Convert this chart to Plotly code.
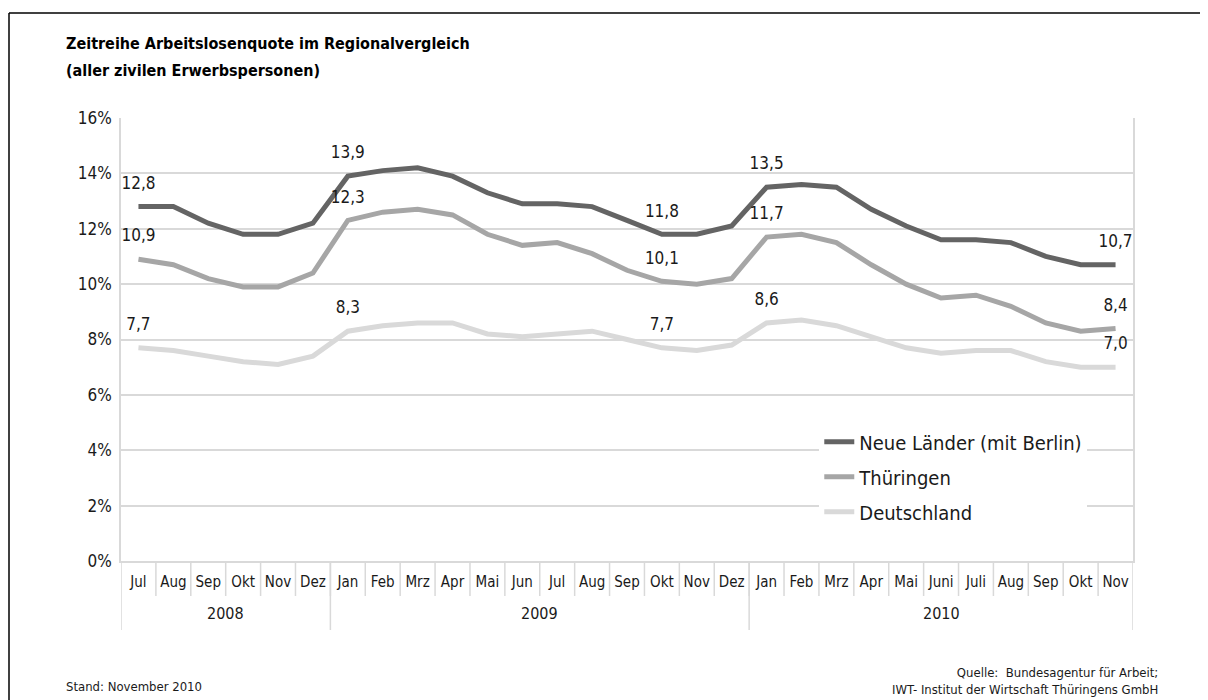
import plotly.graph_objects as go

# data
months = ["Jul", "Aug", "Sep", "Okt", "Nov", "Dez",
          "Jan", "Feb", "Mrz", "Apr", "Mai", "Jun", "Jul", "Aug", "Sep", "Okt", "Nov", "Dez",
          "Jan", "Feb", "Mrz", "Apr", "Mai", "Juni", "Juli", "Aug", "Sep", "Okt", "Nov"]
years = ["2008", "2009", "2010"]
year_len = [6, 12, 11]

neue_laender = [12.8, 12.8, 12.2, 11.8, 11.8, 12.2,
                13.9, 14.1, 14.2, 13.9, 13.3, 12.9, 12.9, 12.8, 12.3, 11.8, 11.8, 12.1,
                13.5, 13.6, 13.5, 12.7, 12.1, 11.6, 11.6, 11.5, 11.0, 10.7, 10.7]
thueringen = [10.9, 10.7, 10.2, 9.9, 9.9, 10.4,
              12.3, 12.6, 12.7, 12.5, 11.8, 11.4, 11.5, 11.1, 10.5, 10.1, 10.0, 10.2,
              11.7, 11.8, 11.5, 10.7, 10.0, 9.5, 9.6, 9.2, 8.6, 8.3, 8.4]
deutschland = [7.7, 7.6, 7.4, 7.2, 7.1, 7.4,
               8.3, 8.5, 8.6, 8.6, 8.2, 8.1, 8.2, 8.3, 8.0, 7.7, 7.6, 7.8,
               8.6, 8.7, 8.5, 8.1, 7.7, 7.5, 7.6, 7.6, 7.2, 7.0, 7.0]

labelled = [0, 6, 15, 18, 28]

series = [
    ("Neue Länder (mit Berlin)", neue_laender, "#646464"),
    ("Thüringen", thueringen, "#a6a6a6"),
    ("Deutschland", deutschland, "#d9d9d9"),
]

FONT = "DejaVu Sans Condensed, Liberation Sans Narrow, sans-serif"
GRID = "#d9d9d9"
idx = list(range(len(months)))

fig = go.Figure()
for i, (name, vals, col) in enumerate(series):
    fig.add_trace(go.Scatter(
        x=idx, y=vals, name=name, mode="lines",
        line=dict(color=col, width=5), legendgroup=str(i)))

for name, vals, col in series:
    fig.add_trace(go.Scatter(
        x=labelled, y=[vals[i] for i in labelled],
        text=[f"{vals[i]:.1f}".replace(".", ",") for i in labelled],
        mode="markers+text", textposition="top center",
        marker=dict(size=20, opacity=0),
        textfont=dict(size=17, color="#1a1a1a"),
        showlegend=False, hoverinfo="skip"))

# the page has an 8px body margin, so margins are 8px smaller
fig.update_layout(
    width=1200, height=692,
    margin=dict(l=113, r=75, t=110, b=139),
    paper_bgcolor="white", plot_bgcolor="white",
    font=dict(family=FONT, size=16, color="#1a1a1a"),
    legend=dict(x=0.69, y=0.313, xanchor="left", yanchor="top",
                bgcolor="white", font=dict(size=20), tracegroupgap=6),
    showlegend=True,
)

fig.update_yaxes(range=[0, 16], dtick=2, ticksuffix="%",
                 showgrid=True, gridcolor=GRID, gridwidth=1.5,
                 showline=True, linecolor=GRID, linewidth=1.5, mirror=True,
                 tickfont=dict(size=17), ticks="", zeroline=False,
                 ticklabelstandoff=4)
fig.update_xaxes(range=[-0.5, len(months) - 0.5], tickvals=idx, ticktext=months,
                 tickangle=0, showgrid=False, zeroline=False,
                 showline=True, linecolor=GRID, linewidth=1.5,
                 ticks="", tickfont=dict(size=15), ticklabelstandoff=6)

# month separators below the axis
for k in range(len(months) - 1):
    fig.add_shape(type="line", xref="x", yref="paper", x0=k + 0.5, x1=k + 0.5,
                  y0=0, y1=-35 / 443, line=dict(color=GRID, width=1.5))

# year dividers and year labels
start = -0.5
for yr, n in zip(years, year_len):
    fig.add_shape(type="line", xref="x", yref="paper", x0=start, x1=start,
                  y0=0, y1=-69 / 443, line=dict(color=GRID, width=1.5))
    fig.add_annotation(xref="x", yref="paper", x=start + n / 2, y=-52 / 443,
                       text=yr, showarrow=False, yanchor="middle",
                       font=dict(size=16))
    start += n
fig.add_shape(type="line", xref="x", yref="paper", x0=start, x1=start,
              y0=0, y1=-69 / 443, line=dict(color=GRID, width=1.5))

fig.add_annotation(xref="paper", yref="paper", x=-0.056, y=(561 - 43) / 443,
                   xanchor="left", yanchor="middle", showarrow=False,
                   text="<b>Zeitreihe Arbeitslosenquote im Regionalvergleich</b>",
                   font=dict(size=16, color="black"))
fig.add_annotation(xref="paper", yref="paper", x=-0.056, y=(561 - 70) / 443,
                   xanchor="left", yanchor="middle", showarrow=False,
                   text="<b>(aller zivilen Erwerbspersonen)</b>",
                   font=dict(size=16, color="black"))
fig.add_annotation(xref="paper", yref="paper", x=-0.056, y=(561 - 686) / 443,
                   xanchor="left", yanchor="middle", showarrow=False,
                   text="Stand: November 2010", font=dict(size=13))
fig.add_annotation(xref="paper", yref="paper", x=1.027, y=(561 - 681) / 443,
                   xanchor="right", yanchor="middle", align="right", showarrow=False,
                   text="Quelle:  Bundesagentur für Arbeit;<br>IWT- Institut der Wirtschaft Thüringens GmbH",
                   font=dict(size=13))

# outer frame: only the top and left edges show in the picture
fx0 = (9 - 121) / 1012
fy1 = (561 - 13) / 443
fig.add_shape(type="line", xref="paper", yref="paper", x0=fx0, x1=1.3, y0=fy1, y1=fy1,
              line=dict(color="black", width=1.5), layer="below")
fig.add_shape(type="line", xref="paper", yref="paper", x0=fx0, x1=fx0, y0=fy1, y1=-0.5,
              line=dict(color="black", width=1.5), layer="below")

fig.write_html("out.html")
